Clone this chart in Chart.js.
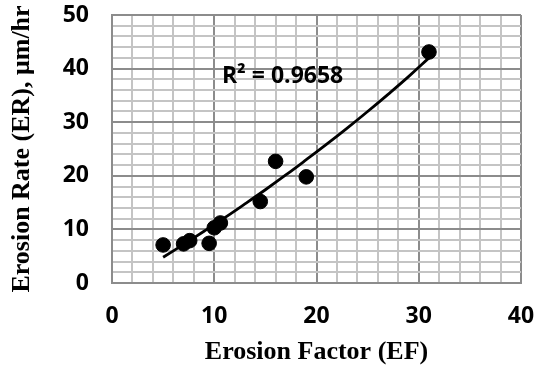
<!DOCTYPE html>
<html>
<head>
<meta charset="utf-8">
<script src="https://cdn.jsdelivr.net/npm/chart.js@4"></script>
<style>
  html, body { margin: 0; padding: 0; background: #fff; }
  #wrap { width: 537px; height: 372px; position: relative; }
</style>
</head>
<body>
<div id="wrap"><canvas id="chart"></canvas></div>
<script>
// measured points
const erosionFactor = [5, 7, 7.6, 9.5, 10, 10.6, 14.5, 16, 19, 31];
const erosionRate   = [7.1, 7.3, 7.9, 7.4, 10.3, 11.2, 15.2, 22.7, 19.8, 43.1];

// trendline
const trendX = [5, 7, 9, 11, 13, 15, 17, 19, 21, 23, 25, 27, 29, 31];
const trendY = [4.8, 7.2, 9.65, 12.15, 14.75, 17.4, 20.15, 23.0, 25.9, 28.9, 32.0, 35.2, 38.5, 42.0];

const xTicks = [0, 10, 20, 30, 40];
const yTicks = [0, 10, 20, 30, 40, 50];
const r2Label = "R\u00B2 = 0.9658";

const tickFont  = { family: "'Open Sans', sans-serif", size: 23, weight: "bold" };
const titleFont = { family: "'Liberation Serif', 'Times New Roman', serif", size: 26, weight: "bold" };

const gridColor = ctx => (ctx.tick && ctx.tick.value % 10 === 0) ? "#8c8c8c" : "#c4c4c4";

// R² text placed in data coordinates
const r2Plugin = {
  id: "r2",
  afterDatasetsDraw(chart) {
    const { ctx, scales } = chart;
    ctx.save();
    ctx.font = "bold 23px 'Open Sans', sans-serif";
    ctx.fillStyle = "#000";
    ctx.textAlign = "left";
    ctx.textBaseline = "alphabetic";
    ctx.fillText(r2Label, scales.x.getPixelForValue(10.75), scales.y.getPixelForValue(37.4));
    ctx.restore();
  }
};

// keep the plot box where it is in the picture
function noLabelPadding(s) {
  s.paddingTop = 0;
  s.paddingBottom = 0;
  s.paddingLeft = 0;
  s.paddingRight = 0;
}

new Chart(document.getElementById("chart"), {
  type: "scatter",
  data: {
    datasets: [
      {
        label: "ER",
        data: erosionFactor.map((x, i) => ({ x, y: erosionRate[i] })),
        backgroundColor: "#000",
        borderColor: "#000",
        pointRadius: 7.3,
        pointHoverRadius: 7.3,
        order: 1,
      },
      {
        label: "trend",
        data: trendX.map((x, i) => ({ x, y: trendY[i] })),
        showLine: true,
        borderColor: "#000",
        borderWidth: 2.8,
        pointRadius: 0,
        tension: 0.4,
        order: 2,
      },
    ],
  },
  options: {
    responsive: true,
    maintainAspectRatio: false,
    animation: false,
    layout: { padding: { top: 15, right: 16, left: 0, bottom: 0 } },
    plugins: { legend: { display: false }, tooltip: { enabled: false } },
    scales: {
      x: {
        type: "linear",
        min: 0, max: 40,
        afterFit: s => { s.height = 89; noLabelPadding(s); },
        afterBuildTicks: s => {
          s.ticks = [];
          for (let v = 0; v <= 40; v += 2) s.ticks.push({ value: v });
        },
        ticks: {
          autoSkip: false,
          maxRotation: 0,
          color: "#000",
          font: tickFont,
          padding: 20,
          callback: v => xTicks.includes(v) ? String(v) : "",
        },
        grid: { color: gridColor, lineWidth: 2, drawTicks: false },
        border: { color: "#8c8c8c", width: 2 },
        title: {
          display: true,
          text: "Erosion Factor (EF)",
          color: "#000",
          font: titleFont,
          padding: { top: 0, bottom: 4 },
        },
      },
      y: {
        type: "linear",
        min: 0, max: 50,
        afterFit: s => { s.width = 112; noLabelPadding(s); },
        afterBuildTicks: s => {
          s.ticks = [];
          for (let v = 0; v <= 50; v += 2) s.ticks.push({ value: v });
        },
        ticks: {
          autoSkip: false,
          color: "#000",
          font: tickFont,
          padding: 23,
          callback: v => yTicks.includes(v) ? String(v) : "",
        },
        grid: { color: gridColor, lineWidth: 2, drawTicks: false },
        border: { color: "#8c8c8c", width: 2 },
        title: {
          display: true,
          text: "Erosion Rate (ER), \u03BCm/hr",
          color: "#000",
          font: titleFont,
          padding: { top: 7, bottom: 0 },
        },
      },
    },
  },
  plugins: [r2Plugin],
});
</script>
</body>
</html>
